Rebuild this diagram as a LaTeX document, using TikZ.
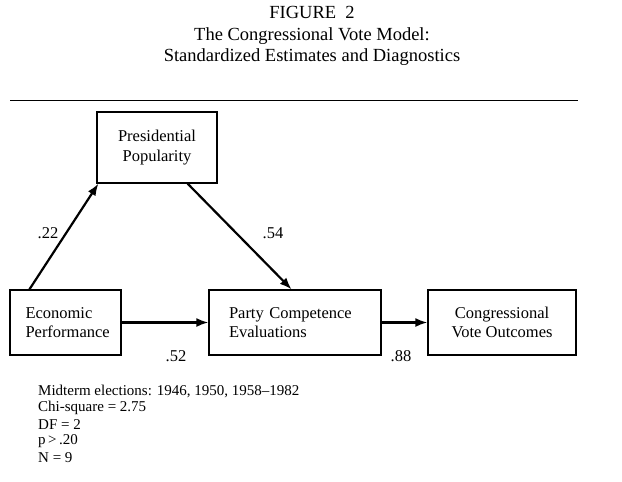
\documentclass[tikz,border=0pt]{standalone}
\usepackage{fontspec}
\setmainfont{Liberation Serif}
\usetikzlibrary{arrows.meta}
\begin{document}
\begin{tikzpicture}[x=1pt,y=-1pt,
  box/.style={draw,line width=1.2pt,align=left,font=\fontsize{16.5}{19.5}\selectfont,inner sep=0pt},
  arr/.style={line width=2.2pt,-{Latex[length=12pt,width=9pt]}},
  lab/.style={font=\fontsize{16.5}{20}\selectfont},
  note/.style={font=\fontsize{15}{17}\selectfont,anchor=west,inner sep=0pt}]
\useasboundingbox (0,0) rectangle (622,482);
\node[align=center,font=\fontsize{18.5}{21.5}\selectfont] (title) at (312,36) {FIGURE\enspace 2\\The Congressional Vote Model:\\Standardized Estimates and Diagnostics};
\draw[line width=1pt] (10,100) -- (578,100);
\node[box,minimum width=120,minimum height=71,align=center] (pp) at (157,147.5) {Presidential\\Popularity};
\node[box,minimum width=111,minimum height=65,text width=80] (ep) at (65.5,322.5) {Economic\\Performance};
\node[box,minimum width=172,minimum height=65,text width=132] (pc) at (295,322.5) {Party Competence\\Evaluations};
\node[box,minimum width=148,minimum height=65,align=center] (cv) at (502,322.5) {Congressional\\Vote Outcomes};
\draw[arr] (ep.north west) ++(20,0) coordinate (a1) -- ([xshift=2]pp.south west) ;
\draw[arr] ([xshift=-30]pp.south east) -- ([xshift=-90]pc.north east);
\draw[arr] (ep.east) -- (pc.west);
\draw[arr] (pc.east) -- (cv.west);
\node[lab] (l1) at (48,233) {.22};
\node[lab] (l2) at (273,233) {.54};
\node[lab] (l3) at (176,356) {.52};
\node[lab] (l4) at (401,356) {.88};
\node[note] (n1) at (38,391) {Midterm elections: 1946, 1950, 1958--1982};
\node[note] (n2) at (38,408) {Chi-square = 2.75};
\node[note] (n3) at (38,425) {DF = 2};
\node[note] (n4) at (38,441) {p\,>\,.20};
\node[note] (n5) at (38,458) {N = 9};
\end{tikzpicture}
\end{document}
